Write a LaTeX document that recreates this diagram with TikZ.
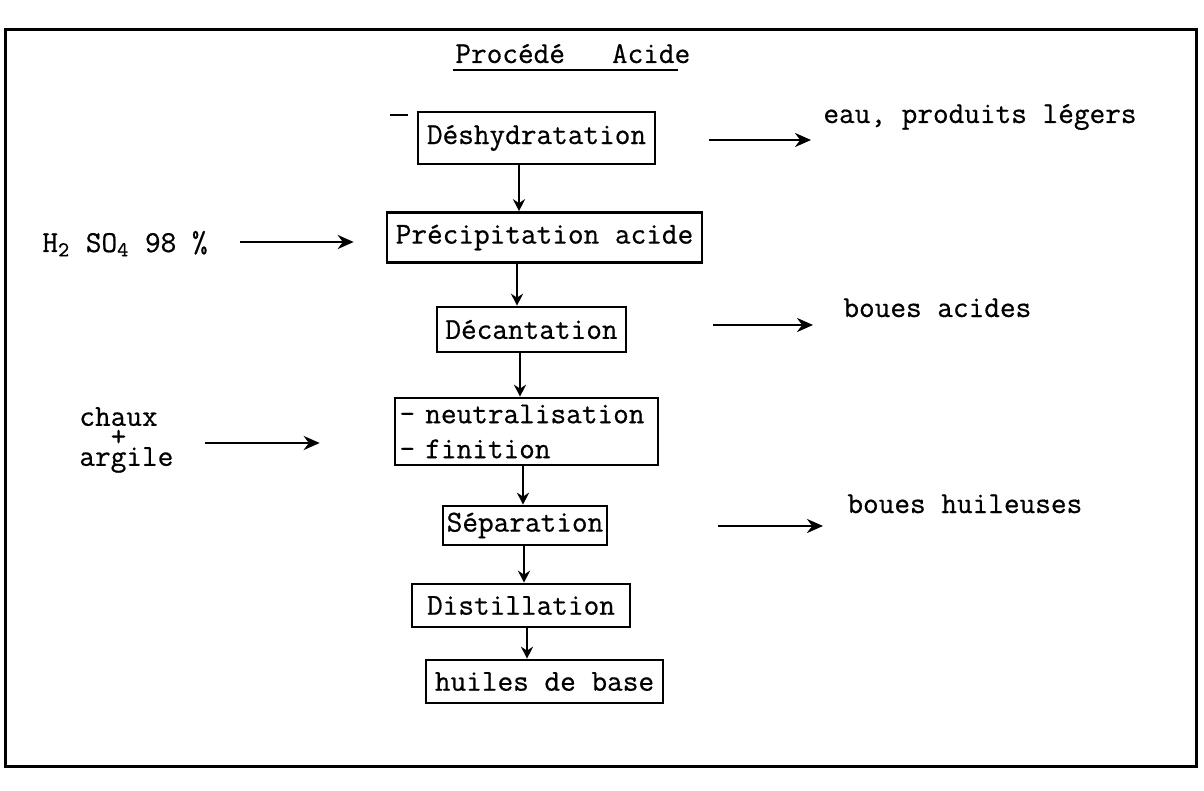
\documentclass[tikz,border=0pt]{standalone}
\usepackage{fontspec}
\newfontfamily\twfont{Latin Modern Mono}[FakeBold=0.6]
\usetikzlibrary{arrows.meta}
\begin{document}
\begin{tikzpicture}[x=0.5pt,y=-0.5pt,
  every node/.style={font=\twfont\fontsize{15.2pt}{17.5pt}\selectfont, text=black},
  box/.style={draw, line width=1.3pt, inner sep=1pt, align=center},
  lbl/.style={anchor=base west, inner sep=0pt},
  arr/.style={line width=1.4pt, -{Stealth[length=8pt,width=7pt]}},
  varr/.style={line width=1.2pt, -{Stealth[length=6pt,width=6pt]}}]
\useasboundingbox (0,0) rectangle (1204,791);
\draw[line width=1.5pt] (5,30) rectangle (1196,766);

% title
\node[lbl] (title) at (455,63) {Procédé~~~Acide};
\draw[line width=1.2pt] ([shift={(-2,7)}]title.base west) -- ++(225,0);

% process boxes
\node[box, minimum width=118.5pt, minimum height=26pt] (desh) at (536.5,138) {Déshydratation};
\draw[line width=1.4pt] (390,115) -- (408,115);
\node[box, minimum width=157.5pt, minimum height=25pt] (prec) at (544.5,237.5) {Précipitation acide};
\node[box, minimum width=94.5pt, minimum height=22.5pt] (dec) at (531.5,329.5) {Décantation};
\node[box, minimum width=131.5pt, minimum height=33.5pt, text width=127pt, align=left, inner sep=2pt] (neut) at (526.5,431.5) {- neutralisation\\- finition};
\node[box, minimum width=82pt, minimum height=19.5pt] (sep) at (525,525.5) {Séparation};
\node[box, minimum width=109pt, minimum height=21.5pt] (dist) at (521,605.5) {Distillation};
\node[box, minimum width=118.5pt, minimum height=21.5pt] (huil) at (544.5,681.5) {huiles de base};

% vertical connectors
\coordinate (v1) at (519,0);
\coordinate (v2) at (517,0);
\coordinate (v3) at (520,0);
\coordinate (v4) at (523,0);
\coordinate (v5) at (524,0);
\coordinate (v6) at (527,0);
\draw[varr] (desh.south -| v1) -- (prec.north -| v1);
\draw[varr] (prec.south -| v2) -- (dec.north -| v2);
\draw[varr] (dec.south -| v3) -- (neut.north -| v3);
\draw[varr] (neut.south -| v4) -- (sep.north -| v4);
\draw[varr] (sep.south -| v5) -- (dist.north -| v5);
\draw[varr] (dist.south -| v6) -- (huil.north -| v6);

% outputs
\node[lbl] (eau) at (823,123) {eau, produits légers};
\node[lbl] (ba) at (843,317) {boues acides};
\node[lbl] (bh) at (847,513) {boues huileuses};
\coordinate (o1) at (709,140);
\coordinate (o2) at (713,325);
\coordinate (o3) at (718,526);
\draw[arr, shorten >=6pt] (o1) -- (o1 -| eau.west);
\draw[arr, shorten >=15pt] (o2) -- (o2 -| ba.west);
\draw[arr, shorten >=12pt] (o3) -- (o3 -| bh.west);

% inputs
\node[lbl] (acid) at (42,252) {H\textsubscript{2} SO\textsubscript{4} 98 \%};
\node[anchor=west, inner sep=0pt, align=left] (chaux) at (79,440)
      {chaux\\[-7.5pt]~~+\\[-7.5pt]argile};
\coordinate (i1) at (240,242);
\coordinate (i2) at (205,443);
\draw[arr, shorten >=16pt] (i1) -- (i1 -| prec.west);
\draw[arr, shorten >=37pt] (i2) -- (i2 -| neut.west);
\end{tikzpicture}
\end{document}
